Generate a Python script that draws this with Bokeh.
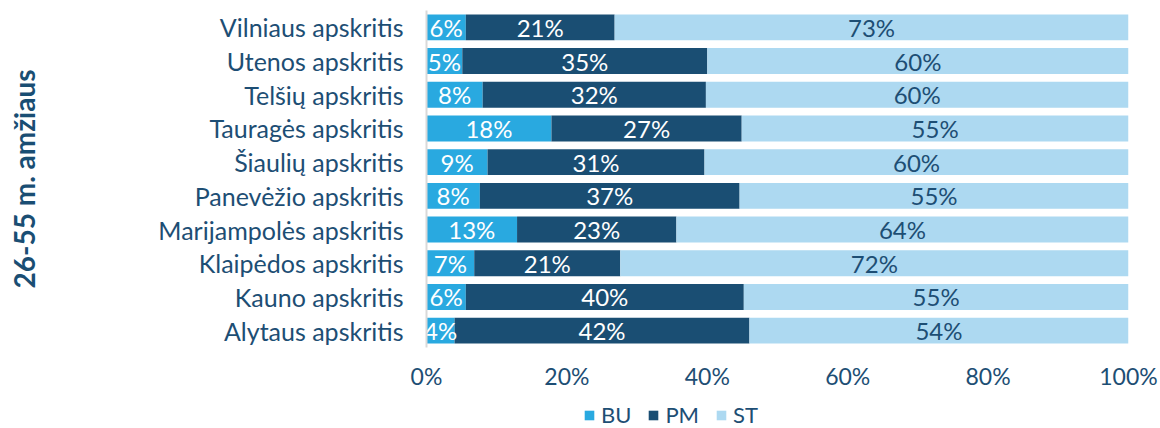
from bokeh.plotting import figure
from bokeh.layouts import column
from bokeh.models import (ColumnDataSource, FactorRange, Range1d, FixedTicker,
                          PrintfTickFormatter, Legend, LegendItem)
from bokeh.core.properties import value
from bokeh.embed import file_html
from bokeh.resources import INLINE

# ---- data (top-to-bottom order as in the chart) ----
regions = ["Vilniaus apskritis", "Utenos apskritis", "Telšių apskritis",
           "Tauragės apskritis", "Šiaulių apskritis", "Panevėžio apskritis",
           "Marijampolės apskritis", "Klaipėdos apskritis", "Kauno apskritis",
           "Alytaus apskritis"]
bu = [5.6, 5.1, 8.0, 17.8, 8.7, 7.6, 12.9, 6.8, 5.6, 4.0]
pm = [21.2, 34.9, 31.8, 27.1, 30.9, 37.0, 22.7, 20.8, 39.6, 42.0]
st = [73.2, 60.0, 60.2, 55.1, 60.4, 55.4, 64.4, 72.4, 54.8, 54.0]
series = ["BU", "PM", "ST"]
x_ticks = [0, 20, 40, 60, 80, 100]
y_title = "26-55 m. amžiaus"

FONT = "Lato"
C_BU, C_PM, C_ST = "#29A9E0", "#1A4E73", "#ADD9F1"
COLORS = [C_BU, C_PM, C_ST]
TXT = "#1D4E74"

factors = list(reversed(regions))
src = ColumnDataSource(dict(
    cat=regions, BU=bu, PM=pm, ST=st,
    bu_x=[b / 2 for b in bu],
    pm_x=[b + p / 2 for b, p in zip(bu, pm)],
    st_x=[b + p + s / 2 for b, p, s in zip(bu, pm, st)],
    bu_t=[f"{v:.0f}%" for v in bu],
    pm_t=[f"{v:.0f}%" for v in pm],
    st_t=[f"{v:.0f}%" for v in st],
))

# ---- main chart ----
p = figure(width=1160, height=392, output_backend="svg", toolbar_location=None,
           y_range=FactorRange(factors=factors, range_padding=0),
           x_range=Range1d(0, 100),
           min_border_left=426, min_border_right=32, min_border_top=10,
           min_border_bottom=41)
p.outline_line_color = None
p.grid.grid_line_color = None

p.hbar_stack(series, y="cat", height=0.77, color=COLORS,
             line_color=None, source=src)

for xcol, tcol, col in [("bu_x", "bu_t", "white"), ("pm_x", "pm_t", "white"),
                        ("st_x", "st_t", TXT)]:
    p.text(x=xcol, y="cat", text=tcol, source=src, text_align="center",
           text_baseline="middle", text_color=col, text_font=value(FONT),
           text_font_size="24px")

# x axis
xa = p.xaxis[0]
xa.ticker = FixedTicker(ticks=x_ticks)
xa.formatter = PrintfTickFormatter(format="%d%%")
xa.axis_line_color = None
xa.major_tick_line_color = None
xa.minor_tick_line_color = None
xa.major_label_text_font = FONT
xa.major_label_text_font_size = "23px"
xa.major_label_text_color = TXT
xa.major_label_standoff = 8

# y axis (with the vertical group title as its label)
ya = p.yaxis[0]
ya.axis_line_color = "#D9D9D9"
ya.axis_line_width = 2
ya.major_tick_line_color = None
ya.minor_tick_line_color = None
ya.major_label_text_font = FONT
ya.major_label_text_font_size = "25px"
ya.major_label_text_color = TXT
ya.major_label_standoff = 17
ya.axis_label = y_title
ya.axis_label_text_font = FONT
ya.axis_label_text_font_style = "bold"
ya.axis_label_text_font_size = "28px"
ya.axis_label_text_color = C_PM
ya.axis_label_standoff = 114

# ---- legend strip below the chart ----
# zero-height copies of the stacked bars (outside the visible x range) feed the legend
lf = figure(width=1160, height=36, output_backend="svg", toolbar_location=None,
            x_axis_type=None, y_axis_type=None, min_border=0,
            y_range=FactorRange(factors=factors, range_padding=0),
            x_range=Range1d(1000, 1100))
lf.outline_line_color = None
lf.grid.grid_line_color = None
lrs = lf.hbar_stack(series, y="cat", height=0, color=COLORS,
                    line_color=None, source=src)

legend = Legend(items=[LegendItem(label=s, renderers=[r]) for s, r in zip(series, lrs)],
                orientation="horizontal", location=(157, 0),
                glyph_width=12, glyph_height=12, label_standoff=6, spacing=16,
                padding=0, margin=0, background_fill_alpha=0,
                border_line_color=None,
                label_text_font=FONT, label_text_font_size="22px",
                label_text_color=TXT)
lf.add_layout(legend, "center")

layout = column(p, lf, spacing=0)
open("out.html", "w").write(file_html(layout, INLINE))
